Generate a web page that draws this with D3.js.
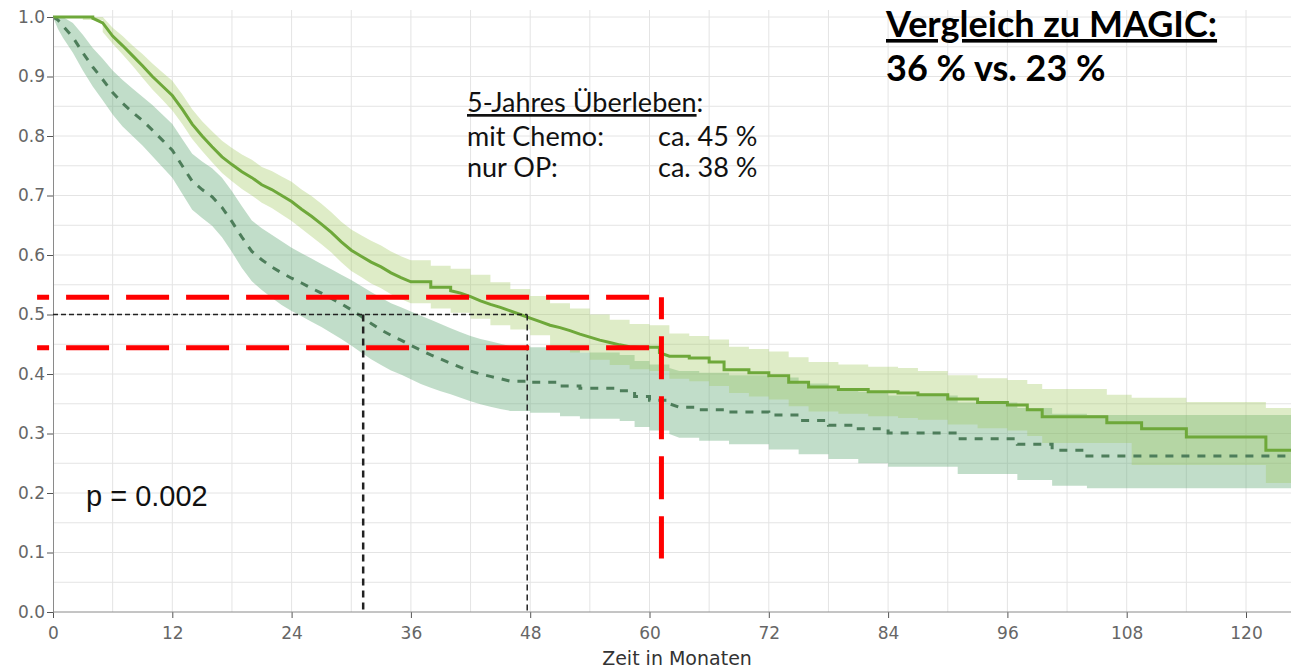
<!DOCTYPE html>
<html>
<head>
<meta charset="utf-8">
<script src="https://cdn.jsdelivr.net/npm/d3@7"></script>
<style>
  body { margin: 0; background: #fff; }
  svg { display: block; }
</style>
</head>
<body>
<svg></svg>
<script>
const width = 1291;
const height = 670;

// mit Chemo (durchgezogen)
const chemoTime = [0, 4, 5, 6, 7, 8, 9, 10, 11, 12, 13, 14, 15, 16, 17, 18, 19, 20, 21, 22, 23, 24, 25, 26, 27, 28, 29, 30, 31, 32, 33, 34, 35, 36, 38, 40, 41, 42, 43, 44, 45, 46, 47, 48, 49, 50, 51, 52, 53, 54, 55, 56, 57, 58, 59, 61, 62, 64, 66, 67.5, 70, 72, 74, 76, 79, 82, 85, 87, 90, 93, 96, 98, 99.5, 106, 109.5, 114, 122, 126];
const chemoSurv = [1.0, 0.998, 0.99, 0.968, 0.952, 0.935, 0.918, 0.90, 0.884, 0.868, 0.845, 0.82, 0.80, 0.782, 0.765, 0.752, 0.74, 0.73, 0.718, 0.71, 0.70, 0.69, 0.677, 0.665, 0.652, 0.638, 0.622, 0.608, 0.598, 0.588, 0.58, 0.57, 0.562, 0.555, 0.546, 0.54, 0.536, 0.53, 0.523, 0.517, 0.512, 0.506, 0.50, 0.494, 0.488, 0.482, 0.478, 0.473, 0.467, 0.462, 0.457, 0.453, 0.449, 0.446, 0.445, 0.436, 0.43, 0.427, 0.42, 0.407, 0.402, 0.397, 0.386, 0.378, 0.374, 0.37, 0.368, 0.365, 0.358, 0.352, 0.348, 0.34, 0.328, 0.318, 0.308, 0.294, 0.272, 0.272];

const chemoBandTime = [0, 3, 5, 6, 7, 8, 9, 10, 11, 12, 13, 14, 15, 16, 17, 18, 19, 20, 21, 22, 23, 24, 25, 26, 27, 28, 29, 30, 31, 32, 33, 34, 35, 36, 38, 40, 42, 44, 46, 48, 50, 52, 54, 56, 58, 60, 62, 64, 66, 68, 70, 72, 74, 76, 79, 82, 85, 87, 90, 93, 96, 98, 99.5, 106, 108.5, 114, 122, 126];
const chemoLower = [1.0, 0.995, 0.975, 0.955, 0.937, 0.918, 0.898, 0.878, 0.861, 0.843, 0.82, 0.795, 0.775, 0.756, 0.738, 0.724, 0.711, 0.70, 0.688, 0.679, 0.668, 0.657, 0.644, 0.631, 0.618, 0.604, 0.588, 0.573, 0.563, 0.552, 0.544, 0.534, 0.526, 0.519, 0.51, 0.503, 0.493, 0.482, 0.475, 0.465, 0.447, 0.436, 0.424, 0.415, 0.408, 0.405, 0.392, 0.388, 0.38, 0.368, 0.362, 0.357, 0.346, 0.337, 0.333, 0.329, 0.326, 0.323, 0.315, 0.309, 0.305, 0.296, 0.284, 0.284, 0.247, 0.247, 0.217, 0.217];
const chemoUpper = [1.0, 1.0, 1.0, 0.982, 0.968, 0.952, 0.938, 0.922, 0.907, 0.893, 0.87, 0.845, 0.825, 0.808, 0.792, 0.78, 0.769, 0.76, 0.748, 0.741, 0.732, 0.723, 0.71, 0.699, 0.686, 0.672, 0.656, 0.643, 0.633, 0.624, 0.616, 0.606, 0.598, 0.591, 0.582, 0.577, 0.567, 0.554, 0.543, 0.531, 0.519, 0.51, 0.50, 0.491, 0.484, 0.482, 0.468, 0.464, 0.458, 0.446, 0.442, 0.438, 0.428, 0.42, 0.416, 0.412, 0.41, 0.405, 0.398, 0.393, 0.39, 0.383, 0.375, 0.365, 0.36, 0.353, 0.343, 0.343];

// nur OP (gestrichelt)
const opTime = [0, 0.5, 1, 2, 3, 4, 5, 6, 7, 8, 9, 10, 11, 12, 13, 14, 15, 16, 17, 18, 19, 20, 21, 22, 23, 24, 25, 26, 27, 28, 29, 30, 31, 32, 33, 34, 35, 36, 37, 38, 39, 40, 41, 42, 43, 44, 45, 46, 48, 51, 53, 57, 58.5, 60, 62, 63, 65, 68, 72, 75, 78, 81, 84, 91, 97, 100.5, 104, 126];
const opSurv = [1.0, 0.995, 0.985, 0.966, 0.94, 0.916, 0.895, 0.873, 0.855, 0.84, 0.826, 0.81, 0.793, 0.776, 0.75, 0.724, 0.71, 0.698, 0.68, 0.656, 0.63, 0.606, 0.592, 0.58, 0.57, 0.561, 0.553, 0.544, 0.536, 0.527, 0.518, 0.508, 0.497, 0.485, 0.474, 0.465, 0.457, 0.448, 0.44, 0.432, 0.425, 0.418, 0.411, 0.405, 0.40, 0.396, 0.392, 0.388, 0.386, 0.38, 0.376, 0.372, 0.362, 0.356, 0.35, 0.344, 0.34, 0.336, 0.331, 0.322, 0.314, 0.308, 0.301, 0.291, 0.282, 0.272, 0.262, 0.262];

const opBandTime = [0, 0.5, 1, 2, 3, 4, 5, 6, 7, 8, 9, 10, 11, 12, 13, 14, 15, 16, 17, 18, 19, 20, 21, 22, 23, 24, 25, 26, 27, 28, 29, 30, 31, 32, 33, 34, 35, 36, 37, 38, 39, 40, 41, 42, 43, 44, 45, 46, 48, 51, 53, 57, 58.5, 60, 62, 63, 65, 68, 72, 75, 78, 81, 84, 91, 97, 100.5, 104, 126];
const opLower = [1.0, 0.98, 0.965, 0.94, 0.91, 0.883, 0.86, 0.836, 0.816, 0.80, 0.784, 0.766, 0.748, 0.73, 0.703, 0.676, 0.662, 0.649, 0.63, 0.605, 0.578, 0.556, 0.541, 0.528, 0.516, 0.506, 0.497, 0.488, 0.479, 0.469, 0.459, 0.448, 0.436, 0.425, 0.415, 0.406, 0.399, 0.391, 0.383, 0.377, 0.371, 0.366, 0.36, 0.354, 0.349, 0.345, 0.341, 0.338, 0.335, 0.329, 0.325, 0.321, 0.311, 0.305, 0.299, 0.293, 0.288, 0.282, 0.273, 0.265, 0.257, 0.25, 0.244, 0.232, 0.222, 0.212, 0.208, 0.208];
const opUpper = [1.0, 1.0, 1.0, 0.99, 0.97, 0.948, 0.93, 0.91, 0.894, 0.88, 0.866, 0.852, 0.836, 0.82, 0.795, 0.77, 0.757, 0.746, 0.73, 0.707, 0.682, 0.658, 0.645, 0.634, 0.623, 0.612, 0.603, 0.594, 0.585, 0.576, 0.567, 0.558, 0.548, 0.538, 0.528, 0.519, 0.512, 0.505, 0.498, 0.491, 0.484, 0.477, 0.47, 0.464, 0.459, 0.455, 0.451, 0.447, 0.445, 0.44, 0.436, 0.432, 0.422, 0.416, 0.41, 0.405, 0.402, 0.398, 0.394, 0.384, 0.376, 0.37, 0.364, 0.352, 0.343, 0.333, 0.331, 0.331];

const xTicks = [0, 12, 24, 36, 48, 60, 72, 84, 96, 108, 120];
const yTicks = [0, 0.1, 0.2, 0.3, 0.4, 0.5, 0.6, 0.7, 0.8, 0.9, 1.0];

// Median und Hinweise
const medianOP = 31.2;
const medianChemo = 47.7;
const boxTop = 0.529, boxBottom = 0.444, boxLeft = -1.6, boxRight = 60, boxVLine = 61.2, boxVBottom = 0.09;

const svg = d3.select('svg')
  .attr('width', width)
  .attr('height', height);

const x = d3.scaleLinear().domain([0, 120]).range([53, 1246]);
const y = d3.scaleLinear().domain([0, 1]).range([612, 17]);

svg.append('clipPath').attr('id', 'plot')
  .append('rect')
  .attr('x', x(0)).attr('y', 0)
  .attr('width', width - x(0)).attr('height', y(0));

// gitter
const grid = svg.append('g').attr('stroke', '#e4e4e4').attr('stroke-width', 1);
grid.selectAll('line.v')
  .data(d3.range(6, 127, 6))
  .enter().append('line')
  .attr('x1', d => x(d)).attr('x2', d => x(d))
  .attr('y1', y(0)).attr('y2', y(1) - 7);
grid.selectAll('line.h')
  .data(d3.range(1, 21).map(i => i * 0.05))
  .enter().append('line')
  .attr('x1', x(0)).attr('x2', width)
  .attr('y1', d => y(d)).attr('y2', d => y(d));

// long gaps between events are drawn as steps, dense stretches as a line
const stepGap = 1.2;
const withCorners = (pts, keys) => {
  const out = [];
  pts.forEach((p, i) => {
    if (i > 0 && p.t - pts[i - 1].t > stepGap) {
      const c = { t: p.t };
      keys.forEach(k => c[k] = pts[i - 1][k]);
      out.push(c);
    }
    out.push(p);
  });
  return out;
};
const toBand = (t, lo, hi) => withCorners(t.map((d, i) => ({ t: d, lo: lo[i], hi: hi[i] })), ['lo', 'hi']);
const toLine = (t, s) => withCorners(t.map((d, i) => ({ t: d, s: s[i] })), ['s']);

const area = d3.area()
  .x(d => x(d.t))
  .y0(d => y(d.lo))
  .y1(d => y(d.hi));

const line = d3.line()
  .x(d => x(d.t))
  .y(d => y(d.s));

const plot = svg.append('g').attr('clip-path', 'url(#plot)');

plot.append('path')
  .datum(toBand(opBandTime, opLower, opUpper))
  .attr('d', area)
  .attr('fill', 'rgb(100,170,120)')
  .attr('fill-opacity', 0.4);

plot.append('path')
  .datum(toBand(chemoBandTime, chemoLower, chemoUpper))
  .attr('d', area)
  .attr('fill', 'rgb(160,200,95)')
  .attr('fill-opacity', 0.35);

plot.append('path')
  .datum(toLine(opTime, opSurv))
  .attr('d', line)
  .attr('fill', 'none')
  .attr('stroke', '#4d7d5a')
  .attr('stroke-width', 3)
  .attr('stroke-dasharray', '8 8');

plot.append('path')
  .datum(toLine(chemoTime, chemoSurv))
  .attr('d', line)
  .attr('fill', 'none')
  .attr('stroke', '#6ea83a')
  .attr('stroke-width', 3);

// achsen
const xAxis = d3.axisBottom(x).tickValues(xTicks).tickSize(6).tickSizeOuter(0).tickFormat(d3.format('d'));
const yAxis = d3.axisLeft(y).tickValues(yTicks).tickSize(6).tickSizeOuter(0).tickFormat(d3.format('.1f'));

const gx = svg.append('g')
  .attr('transform', `translate(0,${y(0)})`)
  .call(xAxis);
gx.select('.domain').remove();
gx.append('line').attr('x1', x(0)).attr('x2', width).attr('stroke', '#8a8a8a');

const gy = svg.append('g')
  .attr('transform', `translate(${x(0)},0)`)
  .call(yAxis);

[gx, gy].forEach(g => {
  g.selectAll('.tick line').attr('stroke', '#555');
  g.selectAll('.domain').attr('stroke', '#8a8a8a');
  g.selectAll('text')
    .attr('fill', '#666')
    .style('font-family', '"DejaVu Sans", sans-serif')
    .style('font-size', '17px');
});
gx.selectAll('text').attr('dy', '1.05em');
gy.selectAll('text').attr('x', -8);

svg.append('text')
  .attr('x', (x(0) + width) / 2 + 5)
  .attr('y', 665)
  .attr('text-anchor', 'middle')
  .attr('fill', '#333')
  .style('font-family', '"DejaVu Sans", sans-serif')
  .style('font-size', '19px')
  .text('Zeit in Monaten');

// mediane
const anno = svg.append('g').attr('fill', 'none').attr('stroke', '#222');
anno.append('line')
  .attr('x1', x(0)).attr('x2', x(medianChemo))
  .attr('y1', y(0.5)).attr('y2', y(0.5))
  .attr('stroke-width', 1.5).attr('stroke-dasharray', '5 3');
anno.append('line')
  .attr('x1', x(medianOP)).attr('x2', x(medianOP))
  .attr('y1', y(0.5)).attr('y2', y(0))
  .attr('stroke-width', 2.5).attr('stroke-dasharray', '7 5');
anno.append('line')
  .attr('x1', x(medianChemo)).attr('x2', x(medianChemo))
  .attr('y1', y(0.5)).attr('y2', y(0))
  .attr('stroke-width', 1.5).attr('stroke-dasharray', '6 4');

// rote markierung
const red = svg.append('g').attr('stroke', '#ff0000').attr('stroke-width', 5).attr('fill', 'none');
[boxTop, boxBottom].forEach(v => {
  red.append('line')
    .attr('x1', x(boxLeft)).attr('x2', x(boxRight))
    .attr('y1', y(v)).attr('y2', y(v))
    .attr('stroke-dasharray', '43 17')
    .attr('stroke-dashoffset', 31);
});
red.append('line')
  .attr('x1', x(boxVLine)).attr('x2', x(boxVLine))
  .attr('y1', y(boxTop)).attr('y2', y(boxVBottom))
  .attr('stroke-dasharray', '43 17')
  .attr('stroke-dashoffset', 21);

// texte
svg.append('text')
  .attr('x', 86).attr('y', 506)
  .attr('fill', '#111')
  .style('font-family', '"Liberation Sans", Arial, sans-serif')
  .style('font-size', '29px')
  .text('p = 0.002');

const note = svg.append('text')
  .attr('fill', '#111')
  .style('font-family', 'Lato, sans-serif')
  .style('font-size', '27px');
const l1 = note.append('tspan').attr('x', 467).attr('y', 112);
l1.append('tspan').style('text-decoration', 'underline').text('5-Jahres Überleben');
l1.append('tspan').text(':');
note.append('tspan').attr('x', 467).attr('y', 146).text('mit Chemo:');
note.append('tspan').attr('x', 658).attr('y', 146).text('ca. 45 %');
note.append('tspan').attr('x', 467).attr('y', 177).text('nur OP:');
note.append('tspan').attr('x', 658).attr('y', 177).text('ca. 38 %');

const magic = svg.append('text')
  .attr('fill', '#000')
  .style('font-family', 'Lato, sans-serif')
  .style('font-weight', 'bold')
  .style('font-size', '36px');
magic.append('tspan').attr('x', 886).attr('y', 37)
  .style('text-decoration', 'underline')
  .text('Vergleich zu MAGIC:');
magic.append('tspan').attr('x', 886).attr('y', 81).text('36 % vs. 23 %');
</script>
</body>
</html>
